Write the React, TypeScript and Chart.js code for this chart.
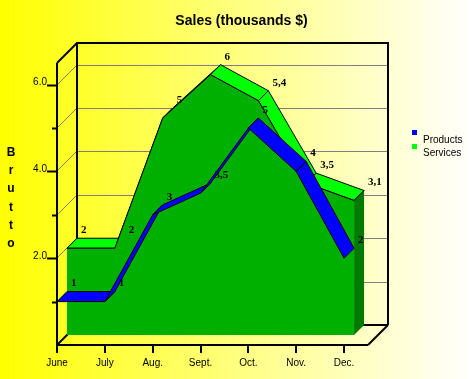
import React, { useEffect, useRef } from 'react';
import { Chart, registerables } from 'chart.js';

Chart.register(...registerables);

// ---- data ----
const months = ['June', 'July', 'Aug.', 'Sept.', 'Oct.', 'Nov.', 'Dec.'];
const products = [1, 1, 3, 3.5, 5, 4, 2];
const services = [2, 2, 5, 6, 5.4, 3.5, 3.1];
const seriesNames = ['Products', 'Services'];
const seriesColors = ['#0000ff', '#00ff00'];
const yAxisTitle = 'Brutto';
const chartTitle = 'Sales (thousands $)';
const yMax = 6.5;
const xMax = 6.5;

// ---- styling ----
const DEPTH = 20;
const HALF = DEPTH / 2;
const SANS = '"Liberation Sans", Arial, sans-serif';
const SERIF = '"Liberation Serif", "Times New Roman", serif';
const SERVICES_FRONT = '#00b000';
const SERVICES_SIDE = '#007a00';

const fmt = (v: number) => String(v).replace('.', ',');

function seg(ctx: CanvasRenderingContext2D, x1: number, y1: number, x2: number, y2: number) {
  ctx.beginPath();
  ctx.moveTo(x1, y1);
  ctx.lineTo(x2, y2);
  ctx.stroke();
}

function quad(ctx: CanvasRenderingContext2D, pts: number[], fill: string) {
  ctx.beginPath();
  ctx.moveTo(pts[0], pts[1]);
  for (let i = 2; i < pts.length; i += 2) ctx.lineTo(pts[i], pts[i + 1]);
  ctx.closePath();
  ctx.fillStyle = fill;
  ctx.fill();
  ctx.stroke();
}

const box3d = {
  id: 'box3d',
  beforeDatasetsDraw(chart: any) {
    const { ctx, chartArea: a, scales } = chart;
    const xs = scales.x;
    const ys = scales.y;
    const L = a.left, R = a.right, T = a.top, B = a.bottom, d = DEPTH, h = HALF;
    ctx.save();
    ctx.lineCap = 'butt';
    ctx.lineJoin = 'miter';

    // back wall grid lines + left wall diagonals
    ctx.strokeStyle = '#808080';
    ctx.lineWidth = 1;
    for (const t of ys.ticks) {
      if (t.value <= 0) continue;
      const py = Math.round(ys.getPixelForValue(t.value));
      seg(ctx, L + d, py - d + 0.5, R + d, py - d + 0.5);
      seg(ctx, L, py, L + d, py - d);
    }

    // back frame
    ctx.strokeStyle = '#000';
    ctx.lineWidth = 2;
    seg(ctx, L + d, T - d, L + d, B - d);
    seg(ctx, L + d - 1, T - d, R + d + 1, T - d);
    seg(ctx, R + d, T - d, R + d, B - d);
    seg(ctx, L + d, B - d, R + d, B - d);
    seg(ctx, L, T, L + d, T - d);
    seg(ctx, L, B, L + d, B - d);

    // Services: 3D area, depth HALF..DEPTH
    const sp = chart.getDatasetMeta(1).data.map((p: any) => ({ x: p.x, y: p.y }));
    ctx.lineWidth = 1;
    ctx.strokeStyle = '#000';
    for (let i = 0; i < sp.length - 1; i++) {
      const p = sp[i], q = sp[i + 1];
      quad(ctx, [p.x + h, p.y - h, q.x + h, q.y - h, q.x + d, q.y - d, p.x + d, p.y - d], seriesColors[1]);
    }
    const last = sp[sp.length - 1];
    ctx.beginPath();
    ctx.moveTo(sp[0].x + h, B - h);
    sp.forEach((p: any) => ctx.lineTo(p.x + h, p.y - h));
    ctx.lineTo(last.x + h, B - h);
    ctx.closePath();
    ctx.fillStyle = SERVICES_FRONT;
    ctx.fill();
    ctx.beginPath();
    sp.forEach((p: any, i: number) => (i ? ctx.lineTo(p.x + h, p.y - h) : ctx.moveTo(p.x + h, p.y - h)));
    ctx.stroke();
    ctx.beginPath();
    ctx.moveTo(last.x + h, last.y - h);
    ctx.lineTo(last.x + d, last.y - d);
    ctx.lineTo(last.x + d, B - d);
    ctx.lineTo(last.x + h, B - h);
    ctx.closePath();
    ctx.fillStyle = SERVICES_SIDE;
    ctx.fill();
    seg(ctx, last.x + h, last.y - h, last.x + d, last.y - d);

    // Products: 3D ribbon, depth 0..HALF
    const pp = chart.getDatasetMeta(0).data.map((p: any) => ({ x: p.x, y: p.y }));
    for (let i = 0; i < pp.length - 1; i++) {
      const p = pp[i], q = pp[i + 1];
      quad(ctx, [p.x, p.y, q.x, q.y, q.x + h, q.y - h, p.x + h, p.y - h], seriesColors[0]);
    }

    // front frame + ticks
    ctx.lineWidth = 2;
    seg(ctx, L, T, L, B + 1);
    seg(ctx, L - 1, B, R, B);
    seg(ctx, R, B, R + d, B - d);
    for (const t of ys.ticks) {
      if (t.value <= 0) continue;
      const py = Math.round(ys.getPixelForValue(t.value)) + 0.5;
      const len = t.value % 2 === 0 ? 10 : 5;
      seg(ctx, L - len, py, L, py);
    }
    for (const t of xs.ticks) {
      const px = Math.round(xs.getPixelForValue(t.value));
      seg(ctx, px, B, px, B + 8);
    }
    ctx.restore();
  },
  beforeDatasetDraw() {
    return false;
  },
  afterDatasetsDraw(chart: any) {
    const { ctx, chartArea: a } = chart;
    ctx.save();
    // value labels
    ctx.font = 'bold 11px ' + SERIF;
    ctx.fillStyle = '#000';
    ctx.textAlign = 'left';
    ctx.textBaseline = 'middle';
    const offs = [HALF, DEPTH];
    chart.data.datasets.forEach((ds: any, di: number) => {
      const meta = chart.getDatasetMeta(di);
      meta.data.forEach((p: any, i: number) => {
        ctx.fillText(fmt(ds.data[i].y), p.x + offs[di] + 4, p.y - offs[di] - 8);
      });
    });
    // legend
    ctx.font = '10px ' + SANS;
    chart.data.datasets.forEach((ds: any, di: number) => {
      const lx = a.right + 44;
      const ly = 130 + di * 13.5;
      ctx.fillStyle = ds.backgroundColor;
      ctx.fillRect(lx, Math.round(ly), 5, 5);
      ctx.fillStyle = '#000';
      ctx.fillText(ds.label, lx + 11, ly + 10);
    });
    // vertical axis title
    ctx.font = 'bold 12px ' + SANS;
    ctx.textAlign = 'center';
    ctx.textBaseline = 'alphabetic';
    yAxisTitle.split('').forEach((ch, i) => {
      ctx.fillText(ch, 11, 156 + i * 18.2);
    });
    ctx.restore();
  },
};

export default function App() {
  const ref = useRef<HTMLCanvasElement | null>(null);
  useEffect(() => {
    if (!ref.current) return;
    Chart.defaults.font.family = SANS;
    const chart = new Chart(ref.current, {
      type: 'line',
      data: {
        datasets: [
          {
            label: seriesNames[0],
            data: products.map((v, i) => ({ x: i, y: v })),
            backgroundColor: seriesColors[0],
            borderColor: seriesColors[0],
          },
          {
            label: seriesNames[1],
            data: services.map((v, i) => ({ x: i, y: v })),
            backgroundColor: seriesColors[1],
            borderColor: seriesColors[1],
          },
        ],
      },
      options: {
        responsive: false,
        animation: false,
        events: [],
        layout: { padding: { left: 10, right: 0, top: 0, bottom: 0 } },
        plugins: {
          legend: { display: false },
          tooltip: { enabled: false },
          title: {
            display: true,
            text: chartTitle,
            color: '#000',
            font: { family: SANS, size: 14, weight: 'bold' },
            padding: { top: 13, bottom: 33.2 },
          },
        },
        scales: {
          x: {
            type: 'linear',
            min: 0,
            max: xMax,
            afterFit: (s: any) => {
              s.height = 34;
            },
            grid: { display: false, drawTicks: false },
            border: { display: false },
            ticks: {
              stepSize: 1,
              includeBounds: false,
              autoSkip: false,
              maxRotation: 0,
              padding: 12,
              color: '#000',
              font: { size: 10 },
              callback: (v: any) => months[v] ?? '',
            },
          },
          y: {
            type: 'linear',
            min: 0,
            max: yMax,
            afterFit: (s: any) => {
              s.width = 47;
            },
            grid: { display: false, drawTicks: false },
            border: { display: false },
            ticks: {
              stepSize: 1,
              includeBounds: false,
              padding: 10,
              labelOffset: -2,
              color: '#000',
              font: { size: 10 },
              callback: (v: any) => (v > 0 && v % 2 === 0 ? Number(v).toFixed(1) : ''),
            },
          },
          yRight: {
            type: 'linear',
            position: 'right',
            min: 0,
            max: yMax,
            afterFit: (s: any) => {
              s.width = 105;
            },
            grid: { display: false, drawTicks: false },
            border: { display: false },
            ticks: { display: false },
          },
        },
      },
      plugins: [box3d],
    } as any);
    return () => chart.destroy();
  }, []);
  return (
    <div
      style={{
        position: 'fixed',
        left: 0,
        top: 0,
        width: 473,
        height: 379,
        background: 'linear-gradient(to right, #ffff00, #ffffff)',
      }}
    >
      <canvas ref={ref} width={473} height={379} style={{ display: 'block' }} />
    </div>
  );
}
